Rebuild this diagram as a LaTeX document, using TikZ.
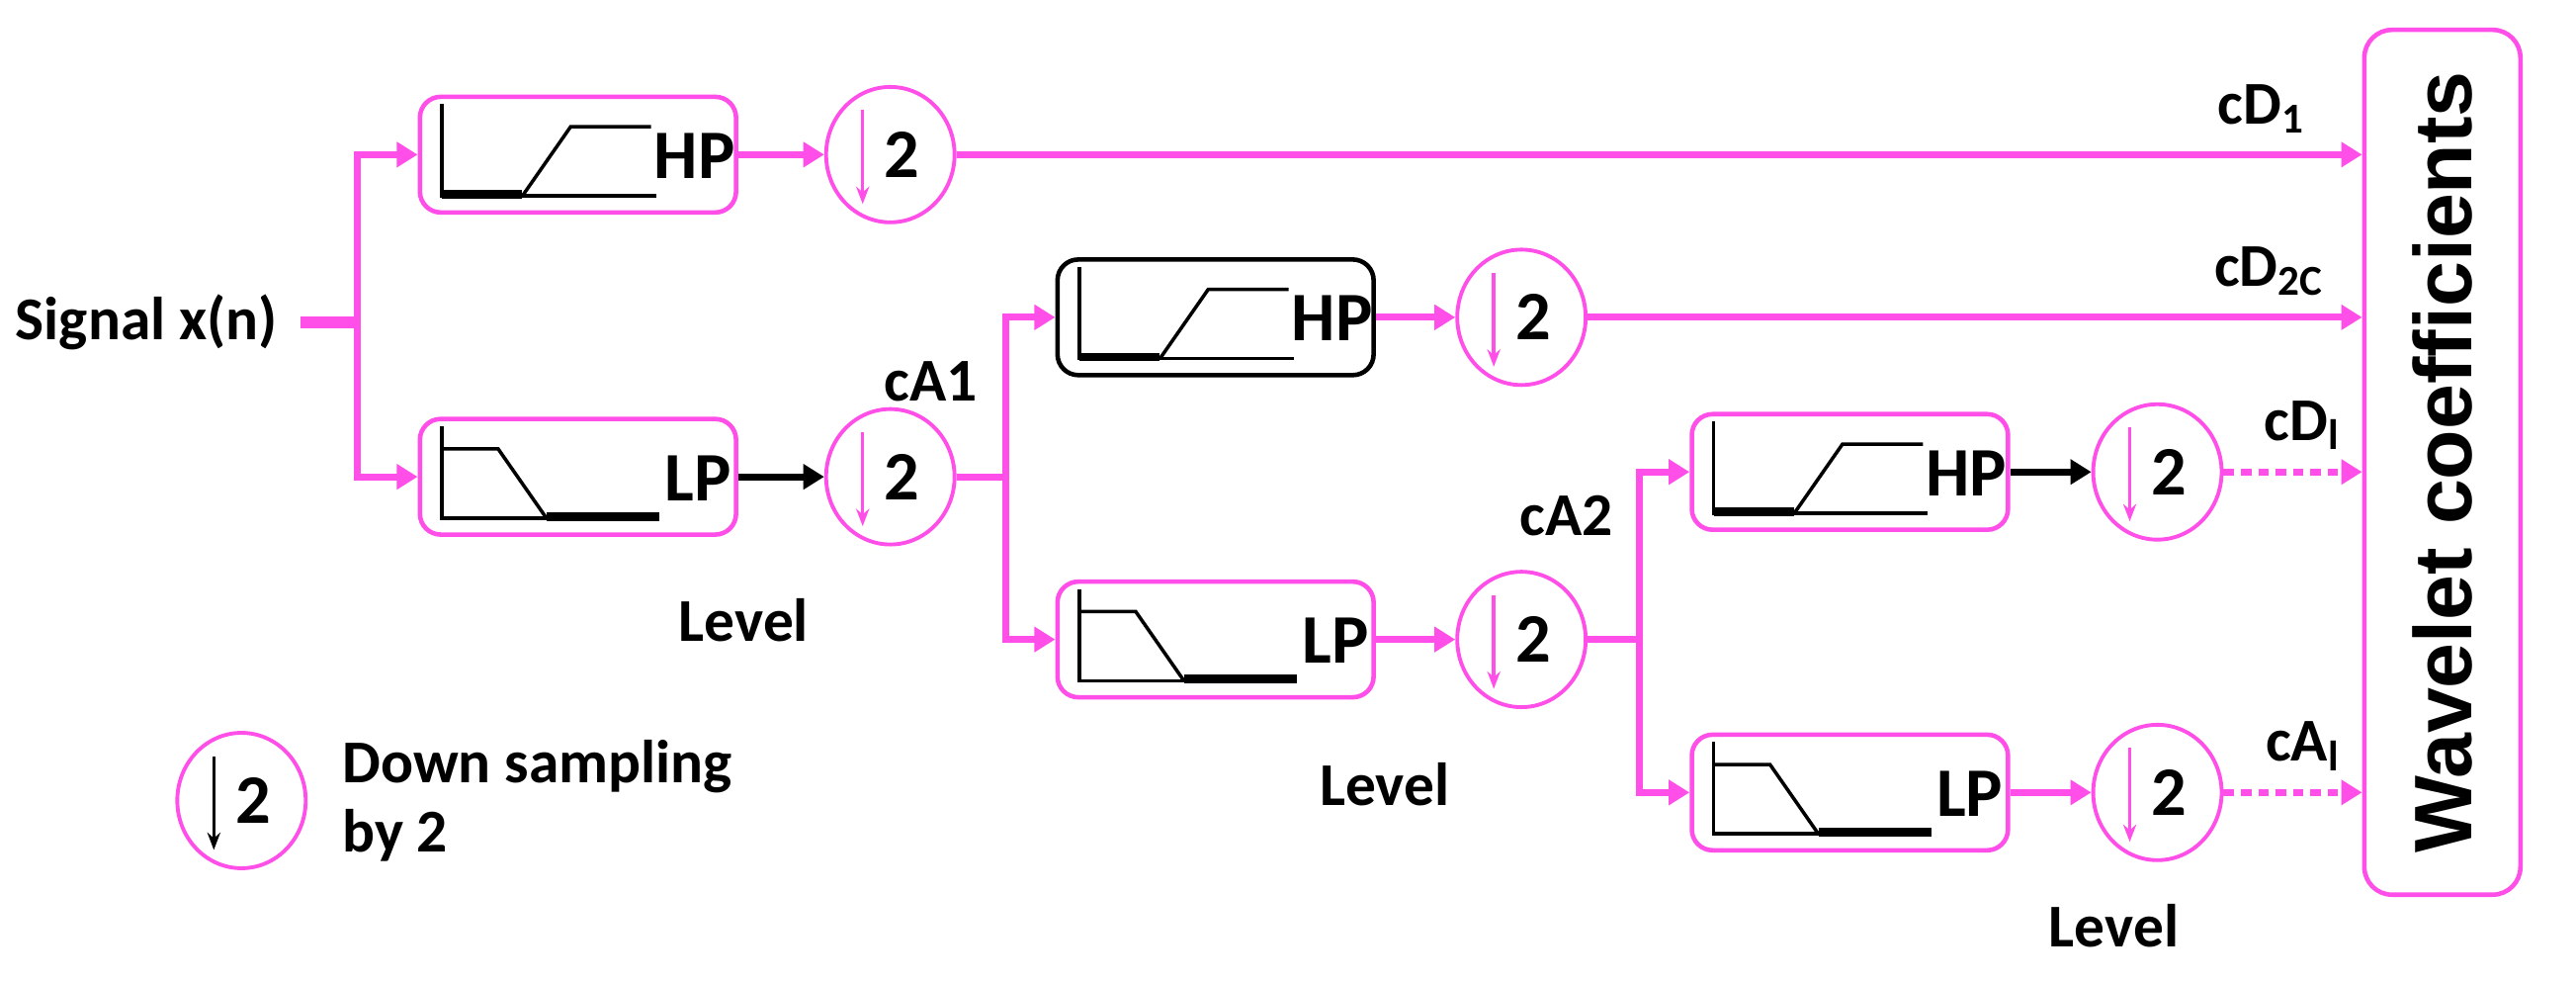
\documentclass[tikz,border=0pt]{standalone}
\usepackage{fontspec}
\setmainfont{Carlito}
\newfontfamily\wfont{Liberation Sans}
\usetikzlibrary{arrows.meta,shapes.geometric}
\definecolor{pk}{HTML}{FF4FE8}
\tikzset{
  every node/.style={font=\bfseries\fontsize{17.5}{20}\selectfont},
  filt/.style={draw=pk,line width=1.3pt,rounded corners=6pt,minimum width=3.2cm,minimum height=1.17cm,inner sep=0pt},
  filtk/.style={filt,draw=black},
  ds/.style={draw=pk,line width=1.1pt,ellipse,minimum width=1.3cm,minimum height=1.37cm,inner sep=0pt},
  con/.style={draw=pk,line width=2pt,-{Triangle[length=6pt,width=7pt]}},
  bcon/.style={draw=black,line width=2pt,-{Triangle[length=6pt,width=7pt]}},
  dcon/.style={con,dash pattern=on 3pt off 2pt},
  ln/.style={draw=pk,line width=2pt},
  ln2/.style={draw=pk,line width=3.5pt},
  ic/.style={line width=1pt,black},
  fl/.style={font=\bfseries\fontsize{20}{22}\selectfont},
}
\newcommand{\hpicon}[1]{%
 \begin{scope}[shift={(#1.north west)},x=0.01629cm,y=-0.01629cm]
  \draw[ic] (15,6)--(15,63)--(148,63);
  \draw[line width=2.5pt] (15,62)--(65,62);
  \draw[ic] (65,63)--(95,20)--(145,20);
  \node[fl] at (172,38) {HP};
 \end{scope}}
\newcommand{\lpicon}[1]{%
 \begin{scope}[shift={(#1.north west)},x=0.01629cm,y=-0.01629cm]
  \draw[ic] (15,6)--(15,63)--(80,63);
  \draw[ic] (15,20)--(50,20)--(80,63);
  \draw[line width=2.5pt] (80,62)--(150,62);
  \node[fl] at (174,38) {LP};
 \end{scope}}
\newcommand{\dsmark}[2][pk]{%
 \draw[#1,line width=1pt,-{Stealth[length=5pt]}] ([xshift=-0.28cm,yshift=0.45cm]#2.center)--([xshift=-0.28cm,yshift=-0.5cm]#2.center);
 \node[fl] at ([xshift=0.12cm]#2.center) {2};}
\begin{document}
\begin{tikzpicture}[x=0.01629cm,y=-0.01629cm]
\useasboundingbox (0,0) rectangle (1600,610);
\node[anchor=west] (sig) at (2,200) {Signal x(n)};
\node[filt] (hp1) at (359,96) {}; \hpicon{hp1}
\node[filt] (lp1) at (359,296) {}; \lpicon{lp1}
\node[ds] (d1) at (553,96) {}; \dsmark{d1}
\node[ds] (d2) at (553,296) {}; \dsmark{d2}
\node[filtk] (hp2) at (755,197) {}; \hpicon{hp2}
\node[filt] (lp2) at (755,397) {}; \lpicon{lp2}
\node[ds] (d3) at (945,197) {}; \dsmark{d3}
\node[ds] (d4) at (945,397) {}; \dsmark{d4}
\node[filt] (hp3) at (1149,293) {}; \hpicon{hp3}
\node[filt] (lp3) at (1149,492) {}; \lpicon{lp3}
\node[ds] (d5) at (1340,293) {}; \dsmark{d5}
\node[ds] (d6) at (1340,492) {}; \dsmark{d6}
\node[draw=pk,line width=1.3pt,rounded corners=8pt,minimum width=1.58cm,minimum height=8.75cm] (wc) at (1517,287) {};
\node[rotate=90,font=\wfont\bfseries\fontsize{23.5}{26}\selectfont] at (wc.center) {Wavelet coefficients};
\coordinate (j1) at (222,200);
\draw[ln2] ([xshift=3pt]sig.east)--(j1);
\draw[con] (j1)|-(hp1.west);
\draw[con] (j1)|-(lp1.west);
\draw[con] (hp1.east)--(d1.west);
\draw[bcon] (lp1.east)--(d2.west);
\draw[con] (d1.east)--(wc.west|-d1.east) node[pos=0.97,above=2pt,anchor=south east] {cD\textsubscript{1}};
\coordinate (j2) at (625,296);
\draw[ln] (d2.east)--(j2);
\draw[con] (j2)|-(hp2.west);
\draw[con] (j2)|-(lp2.west);
\node at (578,237) {cA1};
\draw[con] (hp2.east)--(d3.west);
\draw[con] (lp2.east)--(d4.west);
\draw[con] (d3.east)--(wc.west|-d3.east) node[pos=0.97,above=2pt,anchor=south east] {cD\textsubscript{2C}};
\coordinate (j3) at (1018,397);
\draw[ln] (d4.east)--(j3);
\draw[con] (j3)|-(hp3.west);
\draw[con] (j3)|-(lp3.west);
\node at (973,320) {cA2};
\draw[bcon] (hp3.east)--(d5.west);
\draw[con] (lp3.east)--(d6.west);
\draw[dcon] (d5.east)--(wc.west|-d5.east) node[pos=0.95,above=2pt,anchor=south east] {cD\textsubscript{l}};
\draw[dcon] (d6.east)--(wc.west|-d6.east) node[pos=0.95,above=2pt,anchor=south east] {cA\textsubscript{l}};
\node at (462,385) {Level};
\node at (860,487) {Level};
\node at (1313,575) {Level};
\node[ds] (lg) at (150,497) {}; \dsmark[black]{lg}
\node[anchor=west,align=left] (lgt) at (205,497) {Down sampling\\by 2};
\end{tikzpicture}
\end{document}
